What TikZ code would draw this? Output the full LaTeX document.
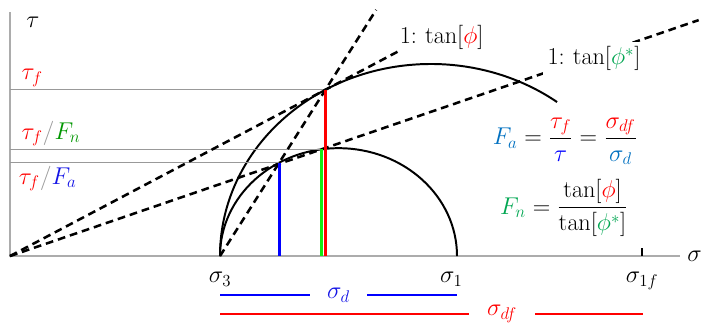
\documentclass[tikz,border=0pt]{standalone}
\usepackage{amsmath,amssymb}
\usepackage{tikz}
\usetikzlibrary{calc}
\usepackage{xcolor}
\definecolor{fgreen}{RGB}{0,166,81}
\definecolor{lgreen}{RGB}{0,150,0}
\definecolor{vgreen}{RGB}{20,235,20}
\definecolor{fblue}{RGB}{0,112,192}
\definecolor{dblue}{RGB}{20,20,230}
\tikzset{
  every node/.style={font=\LARGE},
}

\begin{document}
\begin{tikzpicture}[
x=0.025cm, y=0.02275cm,
axis/.style={gray!65, line width=1.2pt},
guide/.style={gray!80, line width=0.6pt},
mohr/.style={black, line width=1.4pt},
envelope/.style={black, line width=1.8pt, dash pattern=on 5.5pt off 3.5pt},
stress/.style={line width=1.9pt},
bar/.style={line width=1.9pt}
]
\useasboundingbox (-10,-80.2) rectangle (692,281.3);

% axes
\coordinate (O) at (0,0);
\coordinate (tauend) at (0,268);
\coordinate (sigend) at (670,0);
\draw[axis] (tauend) -- (O) -- (sigend);
\node[right, inner sep=5pt] (sig) at (sigend) {$\sigma$};
\node (tau) at (23,257) {$\tau$};

% principal stresses and circle centres
\coordinate (s3) at (210,0);
\coordinate (s1) at (447,0);
\coordinate (s1f) at (632,0);
\coordinate (c1) at (328.5,0);
\coordinate (c2) at (421,0);
\node[below=8pt] (ls3) at (s3) {$\sigma_3$};
\node[below=8pt, xshift=-4pt] (ls1) at (s1) {$\sigma_1$};
\node[below=8pt] (ls1f) at (s1f) {$\sigma_{1f}$};
\draw[mohr] (s1f) -- ++(0,9);

% Mohr circles
\draw[mohr] (s1) arc[start angle=0, end angle=180, radius=118.5];
\draw[mohr] (s3) arc[start angle=180, end angle=53.3, radius=211];

\coordinate (R) at ($(c2)+(120:211)$);
\coordinate (B) at ($(c1)+(120:118.5)$);
\coordinate (G) at ($(c1)+(98.2:118.5)$);

% guide lines to the tau axis
\draw[guide] (R) -- (R -| O) node[above right, xshift=6pt, inner sep=2pt] (ltf) {$\color{red}\tau_f$};
\draw[guide] (G) -- (G -| O) node[above right, xshift=6pt, inner sep=2pt] (ltfn) {${\color{red}\tau_f}/{\color{lgreen}F_n}$};
\draw[guide] (B) -- (B -| O) node[below right, xshift=4pt, inner sep=2pt] (ltfa) {${\color{red}\tau_f}/{\color{dblue}F_a}$};

% envelopes
\draw[envelope] (O) -- ($(O)!1.23!(R)$) coordinate (Pphi);
\node[anchor=south west, inner sep=1pt] (lphi) at (Pphi) {$1{:}\,\tan[{\color{red}\phi}]$};
\draw[envelope] (O) -- ($(O)!2.21!(G)$) coordinate (Pstar)
  node[pos=0.848, fill=white, inner sep=3pt, yshift=-2pt] (lstar) {$1{:}\,\tan[{\color{fgreen}\phi^*}]$};
\draw[envelope] (s3) -- ($(s3)!1.48!(R)$) coordinate (Ppole);

% stresses
\draw[stress, blue] (B) -- (B |- O);
\draw[stress, vgreen] (G) -- (G |- O);
\draw[stress, red] (R) -- (R |- O);

% differential stress bars
\coordinate (d3) at (210,-42.9);
\coordinate (d1) at (447,-42.9);
\coordinate (f3) at (210,-63.7);
\coordinate (f1) at (633,-63.7);
\draw[bar, blue] (d3) -- node[fill=white, text=dblue, inner xsep=12pt] (lsd) {$\sigma_d$} (d1);
\draw[bar, red] (f3) -- node[pos=0.667, fill=white, text=red, inner xsep=13pt] (lsdf) {$\sigma_{df}$} (f1);

% factors of safety
\node (fa) at (555,126) {${\color{fblue}F_a} = \dfrac{\color{red}\tau_f}{\color{blue}\tau} = \dfrac{\color{red}\sigma_{df}}{\color{fblue}\sigma_d}$};
\node (fn) at (554,52.7) {${\color{fgreen}F_n} = \dfrac{\tan[{\color{red}\phi}]}{\tan[{\color{fgreen}\phi^*}]}$};
\end{tikzpicture}
\end{document}
